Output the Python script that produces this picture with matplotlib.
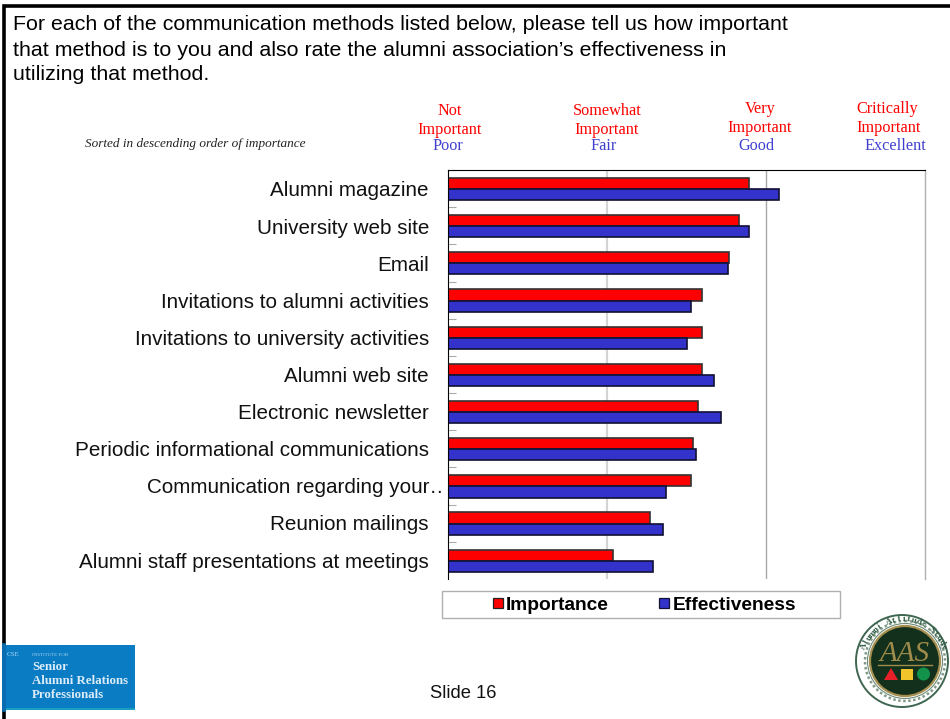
import matplotlib
matplotlib.use("Agg")
import matplotlib.pyplot as plt
from matplotlib.patches import Circle, Polygon, Rectangle
import numpy as np

methods = ["Alumni magazine", "University web site", "Email",
           "Invitations to alumni activities", "Invitations to university activities",
           "Alumni web site", "Electronic newsletter",
           "Periodic informational communications", "Communication regarding your\u2026",
           "Reunion mailings", "Alumni staff presentations at meetings"]
importance = [2.89, 2.83, 2.77, 2.60, 2.60, 2.60, 2.57, 2.54, 2.53, 2.27, 2.04]
effectiveness = [3.08, 2.89, 2.76, 2.53, 2.50, 2.67, 2.72, 2.56, 2.37, 2.35, 2.29]

heading = ["For each of the communication methods listed below, please tell us how important",
           "that method is to you and also rate the alumni association\u2019s effectiveness in",
           "utilizing that method."]

RED = "#ff0000"
BLUE = "#3333cc"
CAPTION_BLUE = "#4040d0"
W, H = 950, 719

plt.rcParams["font.family"] = ["Liberation Sans", "DejaVu Sans"]
fig = plt.figure(figsize=(W / 100, H / 100), dpi=100)

# page layer in pixel coordinates for the slide furniture
page = fig.add_axes([0, 0, 1, 1])
page.set_xlim(0, W)
page.set_ylim(H, 0)
page.axis("off")

page.plot([4, 4, W], [H, 6, 6], color="black", lw=2.6, solid_joinstyle="miter")

for y, line in zip([25, 50, 75], heading):
    page.text(13, y, line, fontsize=15.4, va="center", ha="left", color="black")

serif = "Liberation Serif"
page.text(85, 144, "Sorted in descending order of importance", family=serif,
          style="italic", fontsize=9.5, va="center", color="#222222")

# scale captions above the plot
for x, y, txt, col in [(450, 111, "Not", RED), (450, 130, "Important", RED), (448, 146, "Poor", CAPTION_BLUE),
                       (607, 111, "Somewhat", RED), (607, 130, "Important", RED), (604, 146, "Fair", CAPTION_BLUE),
                       (760, 109, "Very", RED), (760, 128, "Important", RED), (756, 146, "Good", CAPTION_BLUE),
                       (887, 109, "Critically", RED), (889, 128, "Important", RED), (895, 146, "Excellent", CAPTION_BLUE)]:
    page.text(x, y, txt, family=serif, fontsize=11.7, color=col, ha="center", va="center")

# bar chart
ax = fig.add_axes([448 / W, 1 - 579 / H, 477 / W, 409 / H])
ypos = np.arange(len(methods))
h = 0.3
ax.barh(ypos - h / 2 + 0.01, importance, h, left=0, color=RED, edgecolor="#333333", lw=1.2)
ax.barh(ypos + h / 2 + 0.01, effectiveness, h, left=0, color=BLUE, edgecolor="#111133", lw=1.2)
ax.set_xlim(1, 4)
ax.set_ylim(len(methods) - 0.5, -0.5)
ax.set_xticks([])
ax.axvline(2, color="#d4d4d4", lw=1.6, zorder=0)
ax.axvline(3, color="#a8a8a8", lw=1.0, zorder=0)
ax.plot([4, 4], [-0.5, len(methods) - 0.5], color="#b0b0b0", lw=1.0, clip_on=False)
ax.set_yticks(ypos - 0.5)
ax.set_yticklabels([])
ax.tick_params(axis="y", direction="in", length=6, width=0.8, color="#aaaaaa")
for side in ["right", "bottom"]:
    ax.spines[side].set_visible(False)

# the long label is cut off just before the plot, leaving two of the ellipsis dots
for i, name in enumerate(methods):
    y = 191 + i * 37.1
    if name.endswith("\u2026"):
        page.text(450, y, name, fontsize=14.9, ha="right", va="center", color="#111111")
        page.add_patch(Rectangle((443.5, y - 12), 5, 24, fc="white", ec="none", zorder=3))
    else:
        page.text(429, y, name, fontsize=14.9, ha="right", va="center", color="#111111")

# legend box
page.add_patch(Rectangle((441.5, 590.5), 398, 27, fc="white", ec="#b0b0b0", lw=1))
page.add_patch(Rectangle((493, 598), 10, 10, fc=RED, ec="#222222", lw=0.9))
page.text(506, 605, "Importance", fontsize=13.8, weight="bold", va="center")
page.add_patch(Rectangle((659, 598), 10, 10, fc=BLUE, ec="#111133", lw=0.9))
page.text(673, 605, "Effectiveness", fontsize=13.8, weight="bold", va="center")

page.text(463, 694, "Slide 16", fontsize=13.2, ha="center", va="center", color="#111111")

# institute logo, lower left
page.add_patch(Rectangle((2, 645), 133, 65, fc="#0a7cc4", ec="none", zorder=3))
page.add_patch(Rectangle((2, 708), 133, 2, fc="#1a9fc0", ec="none", zorder=3))
page.plot([4, 4], [645, 710], color="#0a6cae", lw=2.6, zorder=3)
page.text(7, 655, "CSE", color="#a8d4f0", fontsize=5, family=serif, va="center", zorder=4)
page.text(32, 655, "INSTITUTE FOR", color="#a8d4f0", fontsize=3.6, family=serif, va="center", zorder=4)
for y, line in [(667, "Senior"), (681, "Alumni Relations"), (695, "Professionals")]:
    page.text(32, y, line, color="#dcecf8", fontsize=9.3, family=serif, weight="bold", va="center", zorder=4)

# association seal, lower right
cx, cy = 902, 661
page.add_patch(Circle((cx, cy), 46, fc="white", ec="#3f6650", lw=1.4, zorder=3))
page.add_patch(Circle((cx + 3, cy), 35, fc="#12301c", ec="#a58f50", lw=1.6, zorder=4))
page.add_patch(Circle((cx + 3, cy), 37.5, fc="none", ec="#6d8a78", lw=0.8, zorder=3))
page.text(cx + 3, cy - 7, "AAS", family=serif, style="italic", fontsize=21, color="#a08c4a",
          ha="center", va="center", zorder=5)
page.plot([cx - 24, cx + 30], [cy + 4, cy + 4], color="#a08c4a", lw=1, zorder=5)
page.add_patch(Polygon([[884, 680], [898, 680], [891, 668]], fc="#e8202a", zorder=5))
page.add_patch(Rectangle((901, 669), 12, 11, fc="#f2c42c", zorder=5))
page.add_patch(Circle((923.5, 674), 6.5, fc="#12924a", zorder=5))
seal_name = "Alumni Attitude Study"
for k, ch in enumerate(seal_name):
    ang = np.deg2rad(-70 + 140 * k / (len(seal_name) - 1))
    page.text(cx + 2 + 42 * np.sin(ang), cy - 42 * np.cos(ang), ch, family=serif, weight="bold",
              fontsize=6.5, color="#2f5a42", ha="center", va="center",
              rotation=-np.rad2deg(ang), zorder=5)
page.add_patch(Circle((cx + 3, cy), 40, fc="none", ec="#7f9a88", lw=1.8, ls=(0, (1, 1)), zorder=3))

fig.savefig("out.png", dpi=100)
